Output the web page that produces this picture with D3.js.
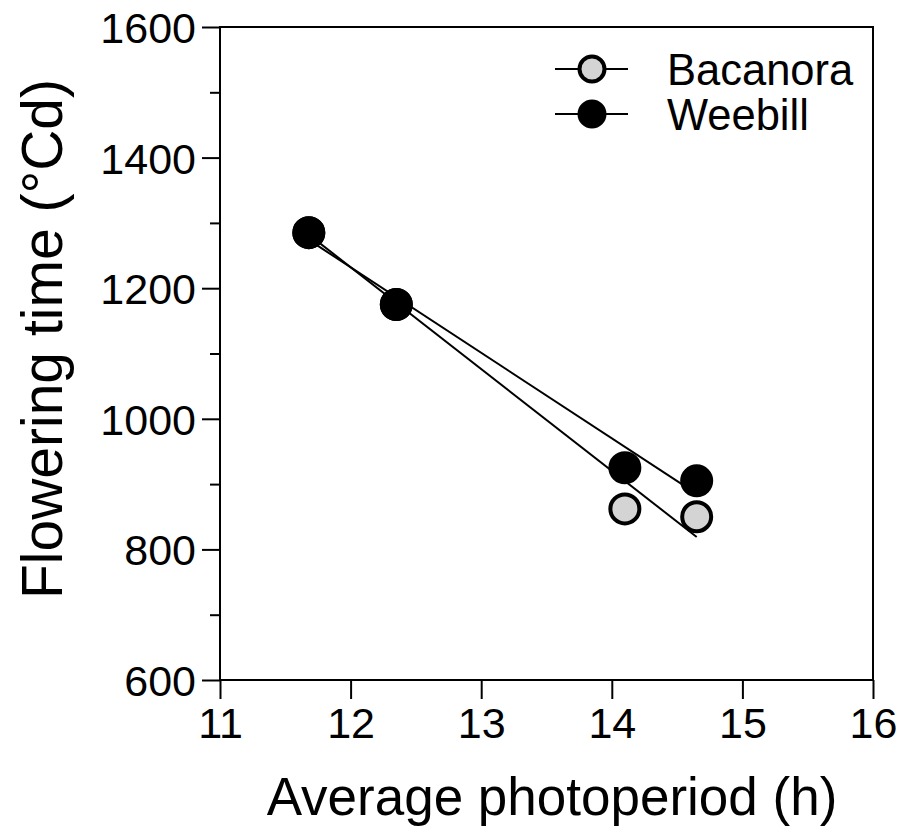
<!DOCTYPE html>
<html>
<head>
<meta charset="utf-8">
<script src="https://cdn.jsdelivr.net/npm/d3@7"></script>
<style>
  html, body { margin: 0; padding: 0; background: #fff; }
  svg { display: block; font-family: "Liberation Sans", Arial, sans-serif; }
</style>
</head>
<body>
<svg id="chart" width="905" height="830"></svg>
<script>
// Average photoperiod (h) for each sowing
const photoperiod = [11.68, 12.35, 14.1, 14.65];
// Flowering time (°Cd) per cultivar
const bacanora = [1285, 1175, 862, 850];
const weebill = [1285, 1175, 925, 905];
// Fitted regression lines: values at the first and last photoperiod
const fitX = [11.68, 14.65];
const bacanoraFit = [1282, 819];
const weebillFit = [1274, 885];
// Axis ticks
const xTicks = [11, 12, 13, 14, 15, 16];
const yTicks = [600, 800, 1000, 1200, 1400, 1600];
const yMinor = [700, 900, 1100, 1300, 1500];
const seriesNames = ["Bacanora", "Weebill"];

const svg = d3.select("#chart");
const plotLeft = 220, plotRight = 873, plotTop = 27, plotBottom = 680;

const x = d3.scaleLinear().domain([11, 16]).range([plotLeft, plotRight]);
const y = d3.scaleLinear().domain([600, 1600]).range([plotBottom, plotTop]);

const styles = {
  Bacanora: { fill: "#d4d4d4" },
  Weebill: { fill: "#000" }
};

// Frame
svg.append("rect")
  .attr("x", plotLeft).attr("y", plotTop)
  .attr("width", plotRight - plotLeft).attr("height", plotBottom - plotTop)
  .attr("fill", "none").attr("stroke", "#000").attr("stroke-width", 2);

// Y axis
const yAxis = svg.append("g")
  .attr("transform", `translate(${plotLeft},0)`)
  .call(d3.axisLeft(y).tickValues(yTicks).tickSize(18).tickPadding(6).tickFormat(d3.format("d")));
const yMinorAxis = svg.append("g")
  .attr("transform", `translate(${plotLeft},0)`)
  .call(d3.axisLeft(y).tickValues(yMinor).tickSize(10).tickFormat(""));

// X axis
const xAxis = svg.append("g")
  .attr("transform", `translate(0,${plotBottom})`)
  .call(d3.axisBottom(x).tickValues(xTicks).tickSize(19).tickPadding(8).tickFormat(d3.format("d")));

[yAxis, yMinorAxis, xAxis].forEach(g => {
  g.select(".domain").remove();
  g.selectAll(".tick line").attr("stroke", "#000").attr("stroke-width", 2);
  g.selectAll(".tick text")
    .attr("fill", "#000")
    .style("font-size", "43px")
    .style("font-family", '"Liberation Sans", Arial, sans-serif');
});
yAxis.selectAll(".tick text").attr("dy", "0.36em");

// Axis titles
svg.append("text")
  .attr("x", 552).attr("y", 815)
  .attr("text-anchor", "middle")
  .style("font-size", "53px")
  .text("Average photoperiod (h)");

svg.append("text")
  .attr("transform", "translate(62,339) rotate(-90)")
  .attr("text-anchor", "middle")
  .style("font-size", "57px")
  .text("Flowering time (°Cd)");

// Regression lines
const line = d3.line().x(d => x(d[0])).y(d => y(d[1]));
[bacanoraFit, weebillFit].forEach(fit => {
  svg.append("path")
    .datum(d3.zip(fitX, fit))
    .attr("d", line)
    .attr("fill", "none")
    .attr("stroke", "#000")
    .attr("stroke-width", 2);
});

// Points
[["Bacanora", bacanora], ["Weebill", weebill]].forEach(([name, vals]) => {
  svg.append("g").selectAll("circle")
    .data(d3.zip(photoperiod, vals))
    .join("circle")
    .attr("cx", d => x(d[0]))
    .attr("cy", d => y(d[1]))
    .attr("r", 14.5)
    .attr("fill", styles[name].fill)
    .attr("stroke", "#000")
    .attr("stroke-width", 4);
});

// Legend
const legend = svg.append("g");
seriesNames.forEach((name, i) => {
  const cy = 69 + i * 45;
  legend.append("line")
    .attr("x1", 555).attr("x2", 628)
    .attr("y1", cy).attr("y2", cy)
    .attr("stroke", "#000").attr("stroke-width", 2);
  legend.append("circle")
    .attr("cx", 592).attr("cy", cy).attr("r", 12.5)
    .attr("fill", styles[name].fill)
    .attr("stroke", "#000").attr("stroke-width", 4);
  legend.append("text")
    .attr("x", 667).attr("y", cy + 16)
    .style("font-size", "43.5px")
    .text(name);
});
</script>
</body>
</html>
